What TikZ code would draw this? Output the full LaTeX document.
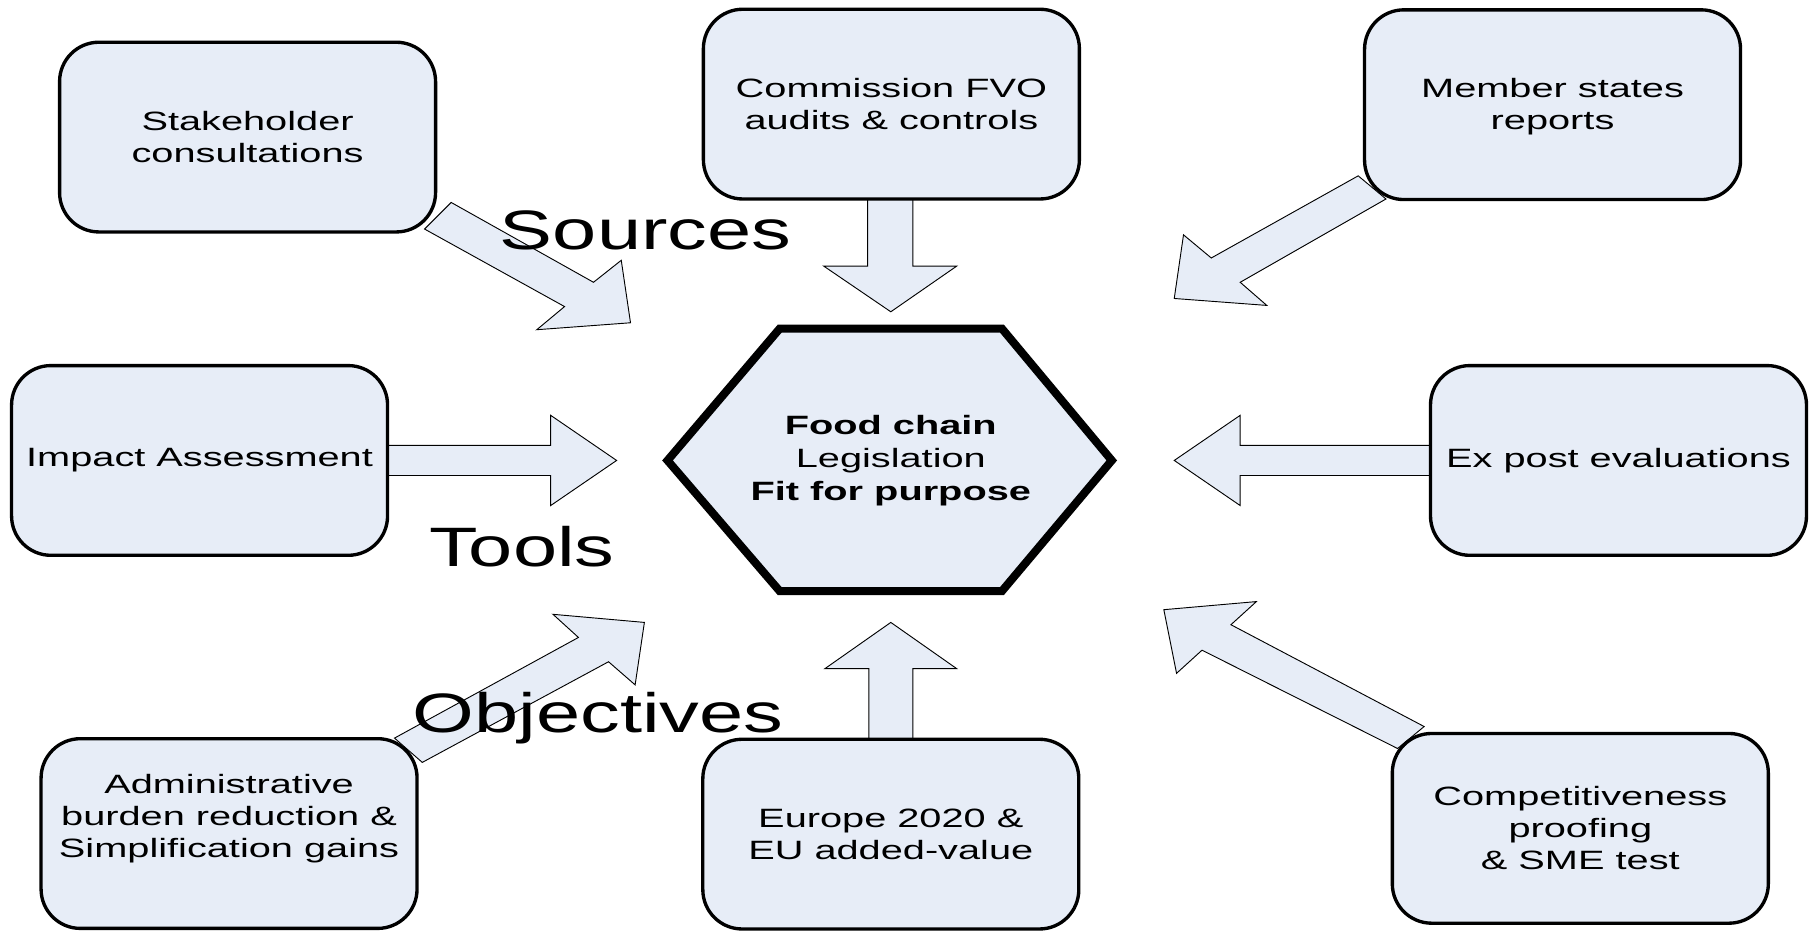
\documentclass[tikz,border=0pt]{standalone}
\usepackage{fontspec}
\setmainfont{Liberation Sans}[FakeStretch=1.5]
\newfontfamily\labelfont{Liberation Sans}[FakeStretch=1.43]
\definecolor{boxfill}{RGB}{231,237,247}
\begin{document}
\begin{tikzpicture}[x=1pt,y=-1pt,
  srcbox/.style={draw=black, line width=2.9pt, fill=boxfill, rounded corners=34pt,
    minimum width=325pt, minimum height=164pt, align=center, inner sep=0pt,
    font=\fontsize{22.9}{27.6}\selectfont},
  boxtext/.style={align=center, inner sep=0pt, font=\fontsize{22.9}{27.6}\selectfont},
  blockarrow/.style={draw=black, line width=0.8pt, fill=boxfill, line join=miter},
  biglabel/.style={font=\labelfont\fontsize{48}{52}\selectfont, anchor=base, inner sep=0pt}]
\useasboundingbox (0,0) rectangle (1568,805);

% block arrows (drawn first, boxes lie over their tails)
\draw[blockarrow] (390,175) -- (513,244) -- (537,225) -- (545,279) -- (464,285) -- (488,265) -- (367,198) -- cycle;
\draw[blockarrow] (750,168) -- (750,230) -- (712,230) -- (770,269.5) -- (827,230) -- (789,230) -- (789,168) -- cycle;
\draw[blockarrow] (1174,152) -- (1047,223) -- (1023,203) -- (1015,258) -- (1095,264) -- (1072,244) -- (1198,172) -- cycle;
\draw[blockarrow] (330,385) -- (476,385) -- (476,359) -- (533,398) -- (476,437) -- (476,411) -- (330,411) -- cycle;
\draw[blockarrow] (1242,385) -- (1072,385) -- (1072,359) -- (1015,398) -- (1072,437) -- (1072,411) -- (1242,411) -- cycle;
\draw[blockarrow] (341,638) -- (500,551) -- (478,531) -- (557,538) -- (549,592) -- (526,572) -- (365,659) -- cycle;
\draw[blockarrow] (751,645) -- (751,578) -- (713,578) -- (770,538) -- (827,578) -- (789,578) -- (789,645) -- cycle;
\draw[blockarrow] (1231,628) -- (1064,540) -- (1086,520) -- (1006,527) -- (1017,582) -- (1039,562) -- (1208,647) -- cycle;

% boxes
\node[srcbox] (stake) at (214,118.5) {Stakeholder\\consultations};
\node[srcbox] (fvo) at (770.5,90) {Commission FVO\\audits \& controls};
\node[srcbox] (member) at (1342,90.5) {};
\node[boxtext] (membertext) at ([yshift=-1.5pt]member.center) {Member states\\reports};
\node[srcbox] (impact) at (172.5,398) {Impact Assessment};
\node[srcbox] (expost) at (1399,398) {Ex post evaluations};
\node[srcbox] (admin) at (198,720.5) {};
\node[boxtext] (admintext) at ([yshift=13pt]admin.center) {Administrative\\burden reduction \&\\Simplification gains};
\node[srcbox] (europe) at (770,721) {Europe 2020 \&\\EU added-value};
\node[srcbox] (compet) at (1366,716) {Competitiveness\\proofing\\\& SME test};

% central hexagon
\draw[line width=7pt, fill=boxfill, line join=miter]
  (674,284) -- (866,284) -- (961,398) -- (866,511) -- (674,511) -- (577,398) -- cycle;
\node[align=center, inner sep=0pt, font=\fontsize{22.9}{28.5}\selectfont] (hub) at (770,398)
  {\textbf{Food chain}\\Legislation\\\textbf{Fit for purpose}};

% group labels
\node[biglabel] (sources) at (558,216) {Sources};
\node[biglabel] (tools) at (451,490) {Tools};
\node[biglabel] (objectives) at (517,633) {Objectives};
\end{tikzpicture}
\end{document}
